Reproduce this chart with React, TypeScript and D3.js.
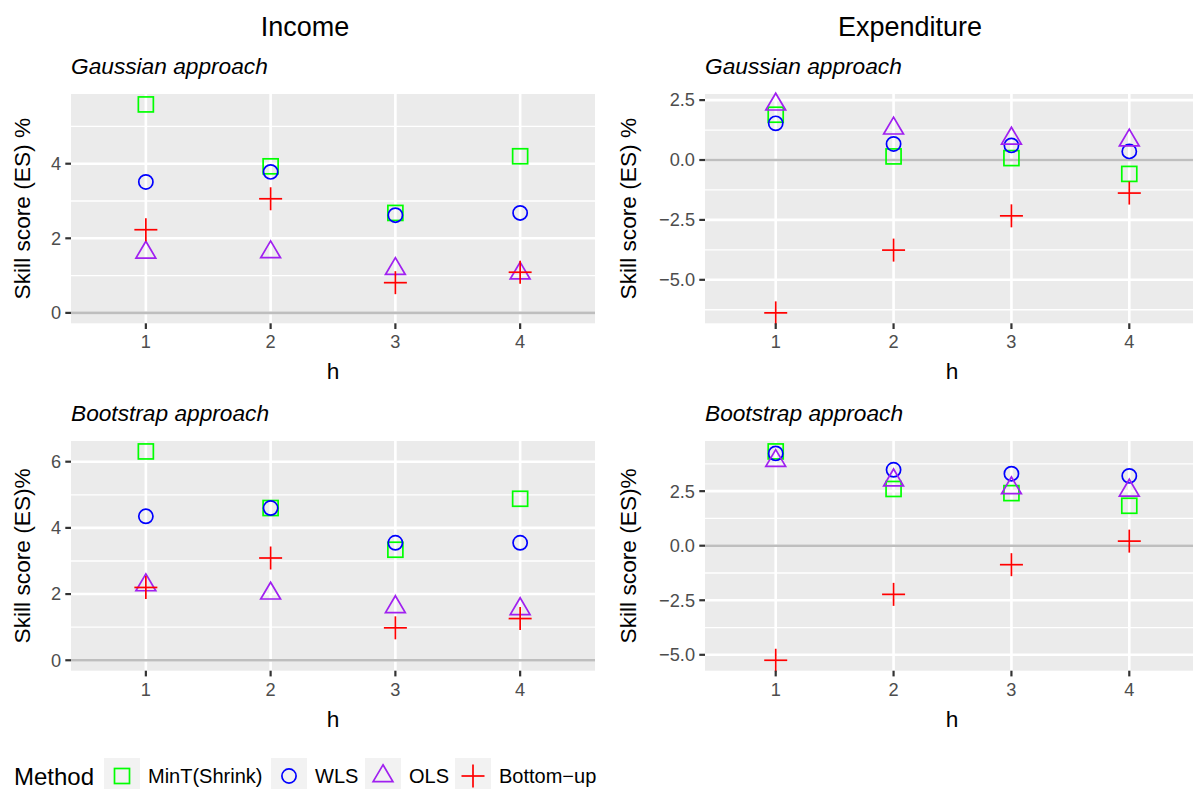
import { scaleLinear, scalePoint, extent, format } from 'd3';

const hs = [1, 2, 3, 4];
const methods = ['MinT(Shrink)', 'WLS', 'OLS', 'Bottom−up'];
const methodColors = ['#00FF00', '#0000FF', '#A020F0', '#FF0000'];
const methodShapes = ['square', 'circle', 'triangle', 'cross'];

// Income, Gaussian approach
const incomeGaussMinT = [5.59, 3.93, 2.68, 4.2];
const incomeGaussWLS = [3.51, 3.78, 2.62, 2.68];
const incomeGaussOLS = [1.62, 1.63, 1.18, 1.06];
const incomeGaussBU = [2.23, 3.06, 0.81, 1.09];

// Expenditure, Gaussian approach
const expGaussMinT = [1.89, 0.15, 0.08, -0.58];
const expGaussWLS = [1.53, 0.67, 0.61, 0.36];
const expGaussOLS = [2.32, 1.32, 0.9, 0.82];
const expGaussBU = [-6.38, -3.76, -2.33, -1.38];

// Income, Bootstrap approach
const incomeBootMinT = [6.31, 4.6, 3.34, 4.88];
const incomeBootWLS = [4.35, 4.6, 3.55, 3.55];
const incomeBootOLS = [2.27, 2.02, 1.61, 1.55];
const incomeBootBU = [2.2, 3.09, 0.98, 1.26];

// Expenditure, Bootstrap approach
const expBootMinT = [4.32, 2.6, 2.41, 1.83];
const expBootWLS = [4.23, 3.48, 3.3, 3.2];
const expBootOLS = [3.89, 3.0, 2.64, 2.53];
const expBootBU = [-5.25, -2.23, -0.87, 0.21];

const incomeTicks = [0, 2, 4];
const incomeBootTicks = [0, 2, 4, 6];
const expTicks = [-5, -2.5, 0, 2.5];

const FONT = '"Liberation Sans", Arial, Helvetica, sans-serif';

function Shape({ type, color, x, y }: { type: string; color: string; x: number; y: number }) {
  const sw = 1.7;
  if (type === 'square')
    return <rect x={x - 7.5} y={y - 7.5} width={15} height={15} fill='none' stroke={color} strokeWidth={sw} />;
  if (type === 'circle') return <circle cx={x} cy={y} r={7.1} fill='none' stroke={color} strokeWidth={sw} />;
  if (type === 'triangle')
    return (
      <path
        d={`M${x},${y - 11.2}L${x + 9.9},${y + 5.6}L${x - 9.9},${y + 5.6}Z`}
        fill='none'
        stroke={color}
        strokeWidth={sw}
      />
    );
  return (
    <g stroke={color} strokeWidth={sw}>
      <line x1={x - 11.5} x2={x + 11.5} y1={y} y2={y} />
      <line x1={x} x2={x} y1={y - 11.5} y2={y + 11.5} />
    </g>
  );
}

type PanelProps = {
  left: number;
  right: number;
  top: number;
  bottom: number;
  series: number[][];
  ticks: number[];
  fmt: (v: number) => string;
  subtitle: string;
  yTitle: string;
  yTitleX: number;
};

function Panel(props: PanelProps) {
  const { left, right, top, bottom, series, ticks, fmt, subtitle, yTitle, yTitleX } = props;
  const [lo, hi] = extent([0, ...series.flat()]) as [number, number];
  const pad = (hi - lo) * 0.05;
  const y = scaleLinear().domain([lo - pad, hi + pad]).range([bottom, top]);
  const x = scalePoint<number>().domain(hs).range([left, right]).padding(0.6);
  const step = ticks[1] - ticks[0];
  const minors = [ticks[0] - step / 2, ...ticks.map((t) => t + step / 2)].filter(
    (v) => v > lo - pad && v < hi + pad,
  );

  return (
    <g>
      <text x={left} y={top - 20} fontSize={22.7} fontStyle='italic' fill='#000'>
        {subtitle}
      </text>
      <rect x={left} y={top} width={right - left} height={bottom - top} fill='#EBEBEB' />
      {minors.map((v) => (
        <line key={'mi' + v} x1={left} x2={right} y1={y(v)} y2={y(v)} stroke='#fff' strokeWidth={1.3} />
      ))}
      {ticks.map((v) => (
        <line key={'ma' + v} x1={left} x2={right} y1={y(v)} y2={y(v)} stroke='#fff' strokeWidth={2.6} />
      ))}
      {hs.map((h) => (
        <line key={'v' + h} x1={x(h)} x2={x(h)} y1={top} y2={bottom} stroke='#fff' strokeWidth={2.6} />
      ))}
      <line x1={left} x2={right} y1={y(0)} y2={y(0)} stroke='#BEBEBE' strokeWidth={2.6} />
      {series.map((vals, mi) =>
        vals.map((v, i) => (
          <Shape key={mi + '-' + i} type={methodShapes[mi]} color={methodColors[mi]} x={x(hs[i])!} y={y(v)} />
        )),
      )}
      {ticks.map((v) => (
        <g key={'yt' + v}>
          <line x1={left - 5.7} x2={left} y1={y(v)} y2={y(v)} stroke='#333' strokeWidth={2.2} />
          <text x={left - 10} y={y(v)} dy='0.35em' textAnchor='end' fontSize={18.2} fill='#4D4D4D'>
            {fmt(v)}
          </text>
        </g>
      ))}
      {hs.map((h) => (
        <g key={'xt' + h}>
          <line x1={x(h)} x2={x(h)} y1={bottom} y2={bottom + 5.7} stroke='#333' strokeWidth={2.2} />
          <text x={x(h)} y={bottom + 25} textAnchor='middle' fontSize={18.2} fill='#4D4D4D'>
            {h}
          </text>
        </g>
      ))}
      <text x={(left + Math.min(right, 1193)) / 2 - (right > 1193 ? -3 : 0)} y={bottom + 56} textAnchor='middle' fontSize={22.7}>
        h
      </text>
      <text
        transform={`translate(${yTitleX},${(top + bottom) / 2}) rotate(-90)`}
        textAnchor='middle'
        fontSize={22.7}
      >
        {yTitle}
      </text>
    </g>
  );
}

const legendLayout = [104, 271, 365, 455];

export default function App() {
  const fInt = format('d');
  const fOne = format('.1f');
  const rows = [
    { top: 94, bottom: 323.3, sub: 'Gaussian approach', yl: 'Skill score (ES) %' },
    { top: 441, bottom: 670.7, sub: 'Bootstrap approach', yl: 'Skill score (ES)%' },
  ];
  return (
    <svg
      width={1193}
      height={789}
      style={{ position: 'absolute', left: 0, top: 0, background: '#fff' }}
      fontFamily={FONT}
    >
      <rect width={1193} height={789} fill='#fff' />
      <text x={305} y={36} textAnchor='middle' fontSize={27}>
        Income
      </text>
      <text x={910} y={36} textAnchor='middle' fontSize={27}>
        Expenditure
      </text>
      <Panel
        left={71}
        right={595}
        top={rows[0].top}
        bottom={rows[0].bottom}
        series={[incomeGaussMinT, incomeGaussWLS, incomeGaussOLS, incomeGaussBU]}
        ticks={incomeTicks}
        fmt={fInt}
        subtitle={rows[0].sub}
        yTitle={rows[0].yl}
        yTitleX={30}
      />
      <Panel
        left={705}
        right={1200}
        top={rows[0].top}
        bottom={rows[0].bottom}
        series={[expGaussMinT, expGaussWLS, expGaussOLS, expGaussBU]}
        ticks={expTicks}
        fmt={fOne}
        subtitle={rows[0].sub}
        yTitle={rows[0].yl}
        yTitleX={636}
      />
      <Panel
        left={71}
        right={595}
        top={rows[1].top}
        bottom={rows[1].bottom}
        series={[incomeBootMinT, incomeBootWLS, incomeBootOLS, incomeBootBU]}
        ticks={incomeBootTicks}
        fmt={fInt}
        subtitle={rows[1].sub}
        yTitle={rows[1].yl}
        yTitleX={30}
      />
      <Panel
        left={705}
        right={1200}
        top={rows[1].top}
        bottom={rows[1].bottom}
        series={[expBootMinT, expBootWLS, expBootOLS, expBootBU]}
        ticks={expTicks}
        fmt={fOne}
        subtitle={rows[1].sub}
        yTitle={rows[1].yl}
        yTitleX={636}
      />
      <text x={14} y={785} fontSize={24}>
        Method
      </text>
      {methods.map((m, i) => (
        <g key={m}>
          <rect x={legendLayout[i]} y={758} width={36} height={36} fill='#F2F2F2' />
          <Shape type={methodShapes[i]} color={methodColors[i]} x={legendLayout[i] + 18} y={776} />
          <text x={legendLayout[i] + 44} y={783} fontSize={20}>
            {m}
          </text>
        </g>
      ))}
    </svg>
  );
}
